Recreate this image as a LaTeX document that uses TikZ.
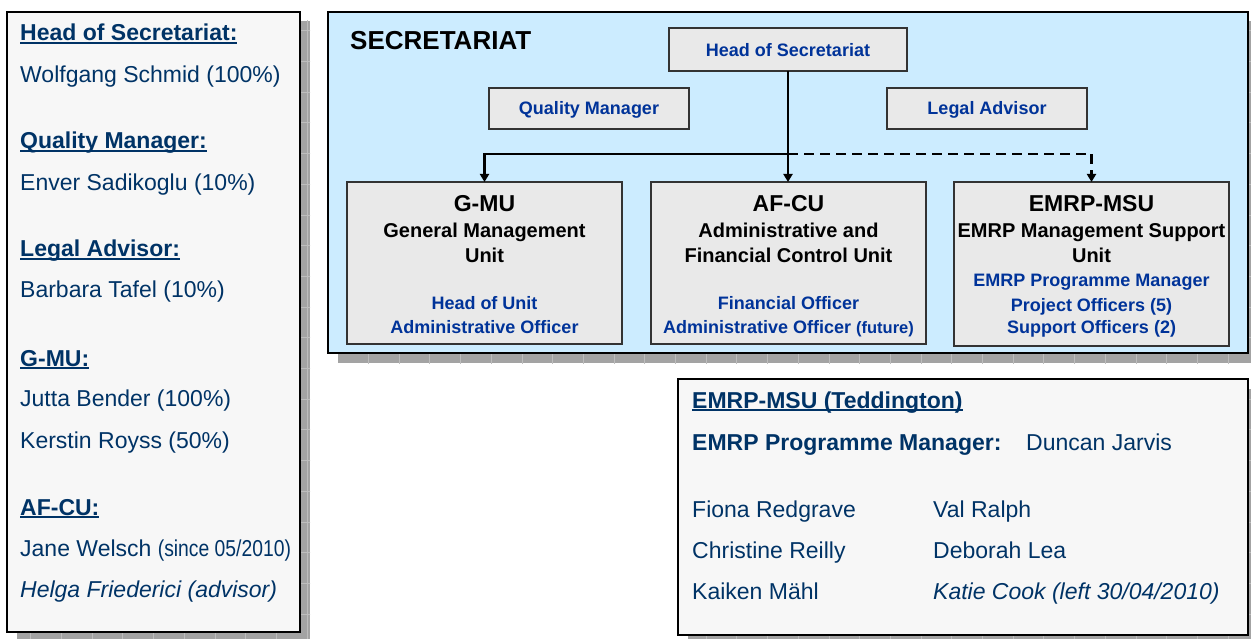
\documentclass[tikz,border=0pt]{standalone}
\usepackage{fontspec}
\usepackage{graphicx}
\setmainfont{Liberation Sans}
\usetikzlibrary{arrows.meta}
\definecolor{navy}{HTML}{003366}
\definecolor{boxblue}{HTML}{003399}
\definecolor{skyfill}{HTML}{CCECFF}
\definecolor{panelfill}{HTML}{F7F7F7}
\definecolor{unitfill}{HTML}{E9E9E9}
\definecolor{shadowgrey}{HTML}{A3A3A3}
\definecolor{shadowline}{HTML}{BDBDBD}
\newcommand{\myul}[1]{\setbox0\hbox{#1}\rlap{\rule[-3.2pt]{\wd0}{1.8pt}}\box0}
\tikzset{
  x=1pt, y=-1pt,
  unitbox/.style={draw=black!80, line width=1.3pt, fill=unitfill, inner sep=0pt, outer sep=0pt, anchor=north west},
  panelbox/.style={draw=black, line width=1.3pt, fill=panelfill, inner sep=0pt, outer sep=0pt, anchor=north west},
  skybox/.style={draw=black, line width=1.6pt, fill=skyfill, inner sep=0pt, outer sep=0pt, anchor=north west},
  ptxt/.style={anchor=base west, inner sep=0pt, text=navy, font=\fontsize{23}{27}\selectfont},
  phead/.style={ptxt, font=\bfseries\fontsize{23}{27}\selectfont},
  ctitle/.style={anchor=base, inner sep=0pt, text=black, font=\bfseries\fontsize{23}{27}\selectfont},
  csub/.style={anchor=base, inner sep=0pt, text=black, font=\bfseries\fontsize{20}{24}\selectfont},
  cblue/.style={anchor=base, inner sep=0pt, text=boxblue, font=\bfseries\fontsize{18}{22}\selectfont},
  conn/.style={line width=2.4pt, -{Triangle[length=8pt,width=9pt]}},
  shadowfill/.style={fill=shadowgrey}
}
\newcommand{\shadowrect}[4]{%
  \fill[shadowfill] (#1,#2) rectangle (#3,#4);
  \begin{scope}
    \clip (#1,#2) rectangle (#3,#4);
    \draw[shadowline, line width=0.7pt, xstep=30.7pt, ystep=30.7pt] (0,0) grid (1260,660);
  \end{scope}}
\begin{document}
\begin{tikzpicture}
\useasboundingbox (0,0) rectangle (1251,639);
% shadows
\shadowrect{17}{21}{310}{645}
\shadowrect{338}{21}{1260}{363}
\shadowrect{688}{389}{1260}{650}
% left panel
\node[panelbox, minimum width=293pt, minimum height=620pt] (lp) at (7,12) {};
\node[phead] (l1) at (20,41) {\myul{Head of Secretariat:}};
\node[ptxt] (l2) at (20,83) {Wolfgang Schmid (100\%)};
\node[phead] (l3) at (20,149) {\myul{Quality Manager:}};
\node[ptxt] (l4) at (20,191) {Enver Sadikoglu (10\%)};
\node[phead] (l5) at (20,257) {\myul{Legal Advisor:}};
\node[ptxt] (l6) at (20,298) {Barbara Tafel (10\%)};
\node[phead] (l7) at (20,366) {\myul{G-MU:}};
\node[ptxt] (l8) at (20,406) {Jutta Bender (100\%)};
\node[ptxt] (l9) at (20,448) {Kerstin Royss (50\%)};
\node[phead] (l10) at (20,515) {\myul{AF-CU:}};
\node[ptxt] (l11) at (20,556) {Jane Welsch \scalebox{0.84}[1]{(since 05/2010)}};
\node[ptxt] (l12) at (20,597) {\itshape Helga Friederici (advisor)};
% secretariat area
\node[skybox, minimum width=920pt, minimum height=341pt] (sec) at (328,12) {};
\node[anchor=base west, inner sep=0pt, font=\bfseries\fontsize{26}{30}\selectfont] (sectitle) at (350,50) {SECRETARIAT};
\node[unitbox, minimum width=238pt, minimum height=43pt] (hos) at (669,28) {};
\node[cblue] (hostxt) at (788,57) {Head of Secretariat};
\node[unitbox, minimum width=200pt, minimum height=41pt] (qm) at (489,88) {};
\node[cblue] (qmtxt) at (589,115) {Quality Manager};
\node[unitbox, minimum width=200pt, minimum height=41pt] (la) at (887,88) {};
\node[cblue] (latxt) at (987,115) {Legal Advisor};
% unit boxes
\node[unitbox, minimum width=275pt, minimum height=162pt] (gmu) at (347,182) {};
\node[ctitle] (gmu1) at (484.5,212) {G-MU};
\node[csub] (gmu2) at (484.5,238) {General Management};
\node[csub] (gmu3) at (484.5,262) {Unit};
\node[cblue] (gmu4) at (484.5,309) {Head of Unit};
\node[cblue] (gmu5) at (484.5,333) {Administrative Officer};
\node[unitbox, minimum width=275pt, minimum height=162pt] (afcu) at (651,182) {};
\node[ctitle] (afcu1) at (788.5,212) {AF-CU};
\node[csub] (afcu2) at (788.5,238) {Administrative and};
\node[csub] (afcu3) at (788.5,262) {Financial Control Unit};
\node[cblue] (afcu4) at (788.5,309) {Financial Officer};
\node[cblue] (afcu5) at (788.5,333) {Administrative Officer {\fontsize{16.5}{20}\selectfont(future)}};
\node[unitbox, minimum width=275pt, minimum height=164pt] (emsu) at (954,182) {};
\node[ctitle] (emsu1) at (1091.5,212) {EMRP-MSU};
\node[csub] (emsu2) at (1091.5,238) {EMRP Management Support};
\node[csub] (emsu3) at (1091.5,262) {Unit};
\node[cblue] (emsu4) at (1091.5,287) {EMRP Programme Manager};
\node[cblue] (emsu5) at (1091.5,312) {Project Officers (5)};
\node[cblue] (emsu6) at (1091.5,334) {Support Officers (2)};
% connectors
\coordinate (jn) at (788,154);
\draw[conn] (hos.south) -- (afcu.north -| hos.south);
\draw[conn] (jn) -| (gmu.north);
\draw[conn, dash pattern=on 10pt off 6pt] (jn) -| (emsu.north);
% bottom panel
\node[panelbox, minimum width=570pt, minimum height=256pt] (bp) at (678,379) {};
\node[phead] (b1) at (692,408) {\myul{EMRP-MSU (Teddington)}};
\node[phead] (b2) at (692,450) {EMRP Programme Manager:};
\node[ptxt] (b3) at (1026,450) {Duncan Jarvis};
\node[ptxt] (b4) at (692,517) {Fiona Redgrave};
\node[ptxt] (b5) at (692,558) {Christine Reilly};
\node[ptxt] (b6) at (692,599) {Kaiken Mähl};
\node[ptxt] (b7) at (933,517) {Val Ralph};
\node[ptxt] (b8) at (933,558) {Deborah Lea};
\node[ptxt] (b9) at (933,599) {\itshape Katie Cook (left 30/04/2010)};
\end{tikzpicture}
\end{document}
